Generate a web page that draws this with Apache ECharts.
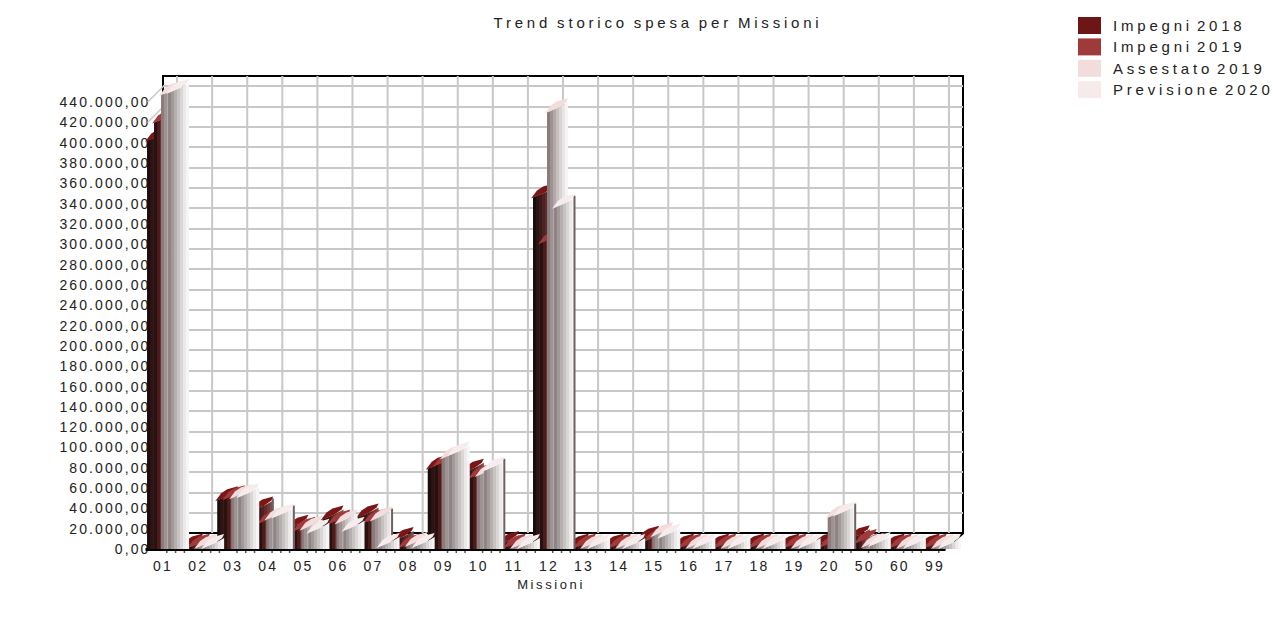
<!DOCTYPE html>
<html><head><meta charset="utf-8">
<style>
html,body{margin:0;padding:0;background:#fff}
#c{width:1273px;height:623px}
</style>
<script src="https://cdn.jsdelivr.net/npm/echarts@6/dist/echarts.min.js"></script>
</head><body><div id="c"></div>
<script>
const categories=['01','02','03','04','05','06','07','08','09','10','11','12','13','14','15','16','17','18','19','20','50','60','99'];
const impegni2018=[402000,1500,48000,38000,20000,29000,31000,8000,79000,75000,4000,346000,1500,1500,9000,1500,1500,1500,1500,3000,9500,1500,1500];
const impegni2019=[420000,1500,49000,25500,18000,25000,26000,1500,82000,70000,1500,301000,1500,1500,8000,1500,1500,1500,1500,2000,6000,1500,1500];
const assestato2019=[447000,1000,50000,29000,19000,25000,28000,3000,89000,72000,1000,430000,1000,1000,12500,1000,1000,1000,1000,31000,2000,1000,1000];
const previsione2020=[449000,1000,51000,31000,16000,18000,2000,2000,92000,77000,1000,336000,1000,1000,11000,1000,1000,1000,1000,33000,3000,1000,1000];
const seriesNames=['Impegni 2018','Impegni 2019','Assestato 2019','Previsione 2020'];
const capColors=['#7a1616','#a33a3a','#f3dcdc','#f7ecec'];
const legendColors=['#6e1616','#9e3a3a','#f2dcdc','#f6eaea'];
const faceBands=[
 ['#1a0c0c','#2a1414','#3a1a1a','#4e2222','#5e2c2c','#6e3a3a','#7a4c4c'],
 ['#2a1010','#4a1c1c','#6e3030','#7e4444','#8a5a5a','#957070','#a08888'],
 ['#8a7c7c','#9e9292','#b2a9a9','#c6c0c0','#d8d4d4','#e8e5e5','#f6f4f4'],
 ['#8e8484','#a29a9a','#b6afaf','#c8c3c3','#dad6d6','#ebe9e9','#f6f5f5']
];
const darkEdges=[[3],[],[6],[3,9,11,19]];
const yTicks=[];for(let v=0;v<=440000;v+=20000)yTicks.push(v);
const fmt=v=>String(v).replace(/\B(?=(\d{3})+$)/g,'.')+',00';

const barW=21,barStep=7;
function gradient(cols){
  const stops=[];cols.forEach((c,i)=>{stops.push({offset:i/cols.length,color:c},{offset:(i+1)/cols.length,color:c});});
  return {type:'linear',x:0,y:0,x2:1,y2:0,global:false,colorStops:stops};
}
function barItem(si){
  return function(params,api){
    const p=api.coord([api.value(0),api.value(1)]);
    const base=api.coord([api.value(0),0])[1];
    const x0=p[0]-11+si*barStep, y=p[1], x1=x0+barW;
    const kids=[
      {type:'polygon',shape:{points:[[x0,base],[x0,y],[x1-9,y-5],[x1,y-10],[x1,base]]},style:{fill:gradient(faceBands[si])}}
    ];
    if(darkEdges[si].includes(params.dataIndex))
      kids.push({type:'line',shape:{x1:x1-0.5,y1:y-12,x2:x1-0.5,y2:base},style:{stroke:'#6f6060',lineWidth:2}});
    kids.push({type:'polygon',shape:{points:[[x0-2,y+1],[x0+4,y-7],[x0+10,y-11],[x1,y-14],[x1-2,y-10],[x1-9,y-5],[x0+3,y-1]]},style:{fill:capColors[si]}});
    return {type:'group',children:kids};
  };
}
function backVertical(params,api){
  const cs=params.coordSys;
  const t=api.coord([api.value(0),0])[0], b=cs.y+cs.height;
  const kids=[{type:'line',shape:{x1:t+19,y1:cs.y-16,x2:t+19,y2:b-16},style:{stroke:'#c8c8c8',lineWidth:2}}];
  [1,2,3].forEach(k=>{const x=t+k*8.77;if(x<cs.x+804)kids.push({type:'line',shape:{x1:x,y1:b+1,x2:x,y2:b+4},style:{stroke:'#555',lineWidth:1.5}});});
  return {type:'group',children:kids};
}
function leftWall(params,api){
  const cs=params.coordSys;
  const y=api.coord([0,api.value(1)])[1];
  return {type:'line',shape:{x1:cs.x+7,y1:y,x2:cs.x+23,y2:y-16},style:{stroke:'#c8c8c8',lineWidth:1.5}};
}
function floorItem(params,api){
  const cs=params.coordSys,b=cs.y+cs.height;
  return {type:'group',children:[
    {type:'line',shape:{x1:cs.x+5,y1:b+0.5,x2:cs.x+805,y2:b+0.5},style:{stroke:'#000',lineWidth:3}},
    {type:'line',shape:{x1:cs.x+804,y1:b,x2:cs.x+823,y2:b-16},style:{stroke:'#000',lineWidth:2}}
  ]};
}
const font={fontFamily:'Liberation Sans',fontSize:14,color:'#222'};
const option={
  animation:false,
  title:{text:'Trend storico spesa per Missioni',left:658,top:15,padding:0,textAlign:'center',textStyle:{...font,fontSize:15,fontWeight:'normal'}},
  legend:{orient:'vertical',left:1078,top:17,padding:0,itemWidth:23,itemHeight:17,itemGap:4.4,icon:'rect',
    data:seriesNames,textStyle:{...font,fontSize:15,padding:[0,0,0,7]}},
  grid:[
    {left:140.5,top:92,width:807,height:457},
    {left:163,top:76,width:800,height:457,show:true,borderColor:'#000',borderWidth:2,backgroundColor:'#fff'}
  ],
  xAxis:[
    {type:'category',gridIndex:0,data:categories,name:'Missioni',nameLocation:'middle',nameGap:27,
     nameTextStyle:{...font,fontSize:13,padding:[0,0,0,14]},
     axisLine:{show:false},axisTick:{alignWithLabel:true,length:6,lineStyle:{color:'#777',width:1.5}},
     axisLabel:{...font,fontSize:14,margin:10,interval:0,padding:[0,0,0,10]}},
    {type:'category',gridIndex:1,data:categories,axisLine:{show:false},axisTick:{show:false},axisLabel:{show:false}}
  ],
  yAxis:[
    {type:'value',gridIndex:0,min:0,max:450000,interval:20000,splitLine:{show:false},axisLine:{show:false},axisTick:{show:false},
     axisLabel:{...font,margin:-10,showMaxLabel:false,formatter:fmt}},
    {type:'value',gridIndex:1,min:0,max:450000,interval:20000,axisLine:{show:false},axisTick:{show:false},axisLabel:{show:false},
     splitLine:{showMinLine:false,showMaxLine:false,lineStyle:{color:'#c8c8c8',width:2}}}
  ],
  series:[
    {type:'custom',name:'wallV',xAxisIndex:0,yAxisIndex:0,z:1,clip:false,silent:true,renderItem:backVertical,data:categories.map((c,i)=>[i,0]),encode:{x:0,y:1}},
    {type:'custom',name:'wallL',xAxisIndex:0,yAxisIndex:0,z:1,clip:false,silent:true,renderItem:leftWall,data:yTicks.map(v=>[0,v]),encode:{x:0,y:1}},
    {type:'custom',name:'floor',xAxisIndex:0,yAxisIndex:0,z:2,clip:false,silent:true,renderItem:floorItem,data:[[0,0]],encode:{x:0,y:1}},
    ...[impegni2018,impegni2019,assestato2019,previsione2020].map((vals,si)=>({
      type:'custom',name:seriesNames[si],xAxisIndex:0,yAxisIndex:0,z:3+si,clip:false,
      itemStyle:{color:legendColors[si]},
      renderItem:barItem(si),data:vals.map((v,i)=>[i,v]),encode:{x:0,y:1}
    }))
  ]
};
const chart=echarts.init(document.getElementById('c'),null,{renderer:'svg'});
chart.setOption(option);
function spaceText(){
  document.querySelectorAll('#c svg text').forEach(t=>{
    const s=t.textContent;
    let ls='2.1px',ws='0';
    if(s===option.title.text){ls='3.8px';ws='-2px';}
    else if(seriesNames.includes(s)){ls='3.8px';ws='-4px';}
    else if(s==='Missioni'){ls='2.6px';}
    else if(categories.includes(s)){ls='2.2px';}
    t.style.letterSpacing=ls;t.style.wordSpacing=ws;
  });
}
spaceText();
chart.on('finished',spaceText);
</script></body></html>
